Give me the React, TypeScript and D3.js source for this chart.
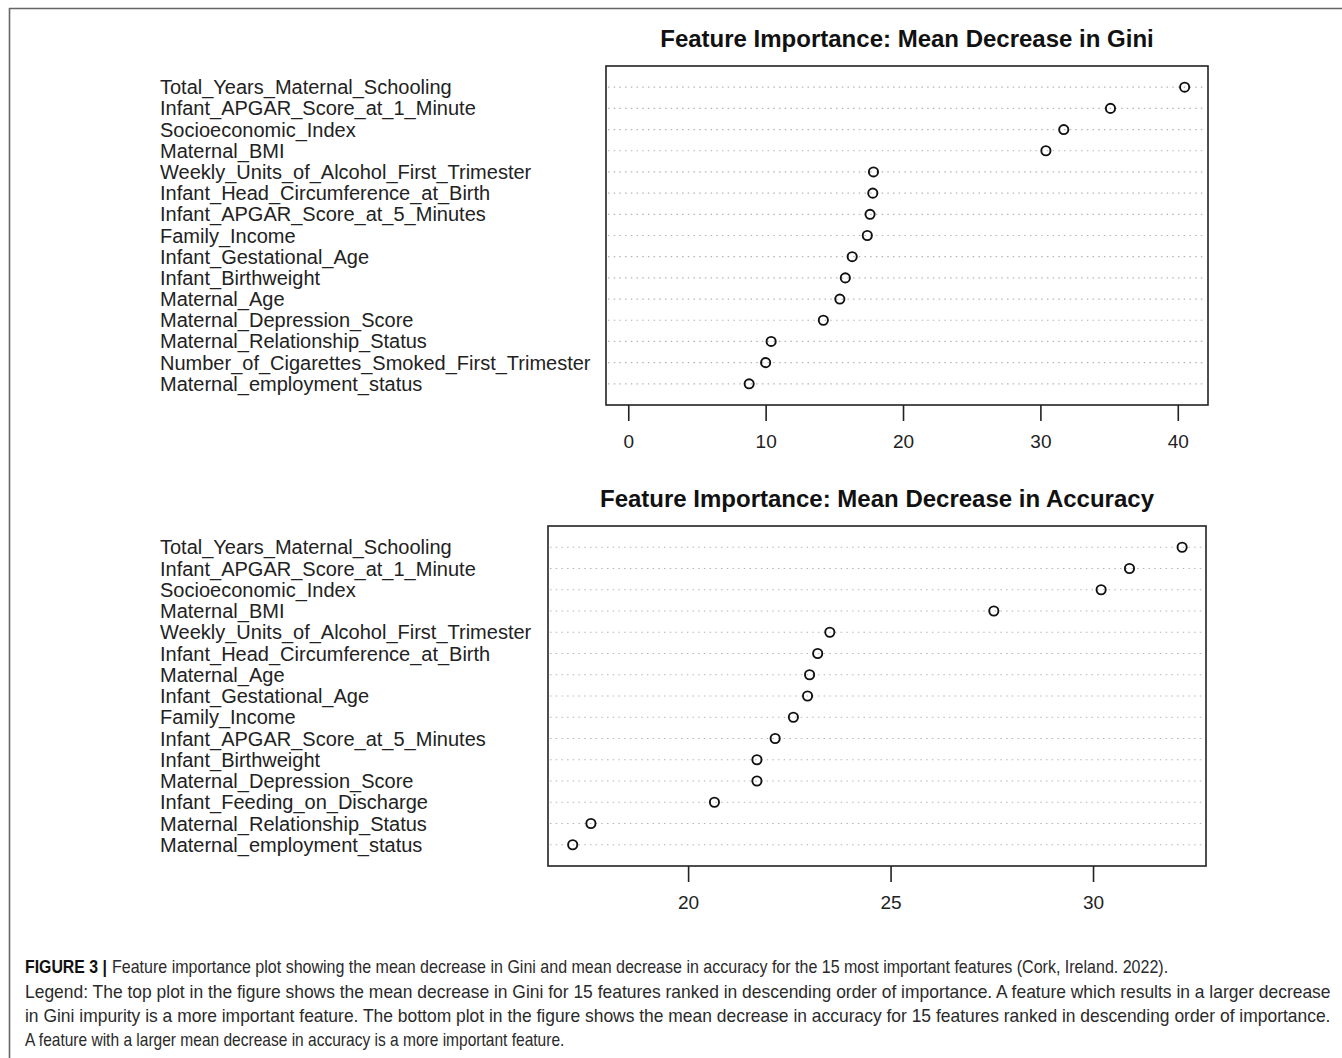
import React, { useEffect, useRef } from 'react';
import * as d3 from 'd3';

// top panel: mean decrease in Gini
const giniFeatures = [
  'Total_Years_Maternal_Schooling',
  'Infant_APGAR_Score_at_1_Minute',
  'Socioeconomic_Index',
  'Maternal_BMI',
  'Weekly_Units_of_Alcohol_First_Trimester',
  'Infant_Head_Circumference_at_Birth',
  'Infant_APGAR_Score_at_5_Minutes',
  'Family_Income',
  'Infant_Gestational_Age',
  'Infant_Birthweight',
  'Maternal_Age',
  'Maternal_Depression_Score',
  'Maternal_Relationship_Status',
  'Number_of_Cigarettes_Smoked_First_Trimester',
  'Maternal_employment_status',
];
const giniValues = [40.5, 35.1, 31.7, 30.4, 17.85, 17.8, 17.6, 17.4, 16.3, 15.8, 15.4, 14.2, 10.4, 10.0, 8.8];
const giniTicks = [0, 10, 20, 30, 40];

// bottom panel: mean decrease in accuracy
const accFeatures = [
  'Total_Years_Maternal_Schooling',
  'Infant_APGAR_Score_at_1_Minute',
  'Socioeconomic_Index',
  'Maternal_BMI',
  'Weekly_Units_of_Alcohol_First_Trimester',
  'Infant_Head_Circumference_at_Birth',
  'Maternal_Age',
  'Infant_Gestational_Age',
  'Family_Income',
  'Infant_APGAR_Score_at_5_Minutes',
  'Infant_Birthweight',
  'Maternal_Depression_Score',
  'Infant_Feeding_on_Discharge',
  'Maternal_Relationship_Status',
  'Maternal_employment_status',
];
const accValues = [32.2, 30.9, 30.2, 27.55, 23.5, 23.2, 23.0, 22.95, 22.6, 22.15, 21.7, 21.7, 20.65, 17.6, 17.15];
const accTicks = [20, 25, 30];

const captionLead = 'FIGURE 3 |';
const captionLines = [
  'Feature importance plot showing the mean decrease in Gini and mean decrease in accuracy for the 15 most important features (Cork, Ireland. 2022).',
  'Legend: The top plot in the figure shows the mean decrease in Gini for 15 features ranked in descending order of importance. A feature which results in a larger decrease',
  'in Gini impurity is a more important feature. The bottom plot in the figure shows the mean decrease in accuracy for 15 features ranked in descending order of importance.',
  'A feature with a larger mean decrease in accuracy is a more important feature.',
];

const W = 1342;
const H = 1058;

function drawPanel(svg, opts) {
  const { features, values, ticks, title, left, right, top, bottom, domain } = opts;
  const g = svg.append('g');

  const x = d3.scaleLinear().domain(domain).range([left, right]);
  const y = d3.scalePoint().domain(features).range([top, bottom]).padding(1);

  // title
  g.append('text')
    .attr('x', (left + right) / 2)
    .attr('y', top - 19)
    .attr('text-anchor', 'middle')
    .attr('font-family', 'Liberation Sans, Arial, sans-serif')
    .attr('font-weight', 'bold')
    .attr('font-size', 24)
    .attr('fill', '#111')
    .text(title);

  // dotted guide lines
  g.selectAll('.guide')
    .data(features)
    .enter()
    .append('line')
    .attr('x1', left + 2)
    .attr('x2', right - 2)
    .attr('y1', d => y(d))
    .attr('y2', d => y(d))
    .attr('stroke', '#b5b5b5')
    .attr('stroke-width', 1.2)
    .attr('stroke-dasharray', '1.5,4.2');

  // feature labels
  g.selectAll('.lab')
    .data(features)
    .enter()
    .append('text')
    .attr('x', 160)
    .attr('y', d => y(d) + 7)
    .attr('font-family', 'Liberation Sans, Arial, sans-serif')
    .attr('font-size', 20)
    .attr('fill', '#222')
    .text(d => d);

  // points
  g.selectAll('.pt')
    .data(values)
    .enter()
    .append('circle')
    .attr('cx', d => x(d))
    .attr('cy', (d, i) => y(features[i]))
    .attr('r', 4.6)
    .attr('fill', 'none')
    .attr('stroke', '#111')
    .attr('stroke-width', 1.9);

  // box
  g.append('rect')
    .attr('x', left)
    .attr('y', top)
    .attr('width', right - left)
    .attr('height', bottom - top)
    .attr('fill', 'none')
    .attr('stroke', '#222')
    .attr('stroke-width', 1.6);

  // x axis
  const axis = g.append('g').attr('transform', 'translate(0,' + bottom + ')');
  axis.call(d3.axisBottom(x).tickValues(ticks).tickSize(16).tickPadding(14).tickFormat(d3.format('d')));
  axis.select('.domain').remove();
  axis.selectAll('line').attr('stroke', '#222').attr('stroke-width', 1.6);
  axis.selectAll('text')
    .attr('font-family', 'Liberation Sans, Arial, sans-serif')
    .attr('font-size', 19)
    .attr('fill', '#222');
}

// text squeezed horizontally to a target width (caption font is condensed)
function fitText(parent, str, x0, y0, width, bold) {
  const t = parent.append('text')
    .attr('x', 0)
    .attr('y', 0)
    .attr('font-weight', bold ? 'bold' : null)
    .attr('fill', bold ? '#111' : null)
    .text(str);
  const natural = t.node().getComputedTextLength() || width;
  const sx = width / natural;
  t.attr('transform', 'translate(' + x0 + ',' + y0 + ') scale(' + sx + ',1)');
}

export default function App() {
  const ref = useRef(null);

  useEffect(() => {
    const svg = d3.select(ref.current);
    svg.selectAll('*').remove();

    // outer frame (top and left only)
    svg.append('line').attr('x1', 9).attr('x2', W).attr('y1', 8.5).attr('y2', 8.5)
      .attr('stroke', '#666').attr('stroke-width', 1.6);
    svg.append('line').attr('x1', 9.5).attr('x2', 9.5).attr('y1', 8).attr('y2', H)
      .attr('stroke', '#666').attr('stroke-width', 1.6);

    drawPanel(svg, {
      features: giniFeatures,
      values: giniValues,
      ticks: giniTicks,
      title: 'Feature Importance: Mean Decrease in Gini',
      left: 606, right: 1208, top: 66, bottom: 405,
      domain: [-1.62, 42.2],
    });

    drawPanel(svg, {
      features: accFeatures,
      values: accValues,
      ticks: accTicks,
      title: 'Feature Importance: Mean Decrease in Accuracy',
      left: 548, right: 1206, top: 526, bottom: 866,
      domain: [16.54, 32.79],
    });

    // caption
    const cap = svg.append('g')
      .attr('font-family', 'Liberation Sans, Arial, sans-serif')
      .attr('font-size', 18)
      .attr('fill', '#2a2a2a');
    const lineY = [973, 998, 1022, 1046];
    const lineX = [112, 25, 25, 25];
    const lineLen = [1057, 1306, 1306, 540];

    fitText(cap, captionLead, 25, lineY[0], 82, true);
    captionLines.forEach((t, i) => {
      fitText(cap, t, lineX[i], lineY[i], lineLen[i], false);
    });
  }, []);

  return (
    <svg
      ref={ref}
      width={W}
      height={H}
      style={{ position: 'absolute', left: 0, top: 0, background: 'white' }}
    />
  );
}
